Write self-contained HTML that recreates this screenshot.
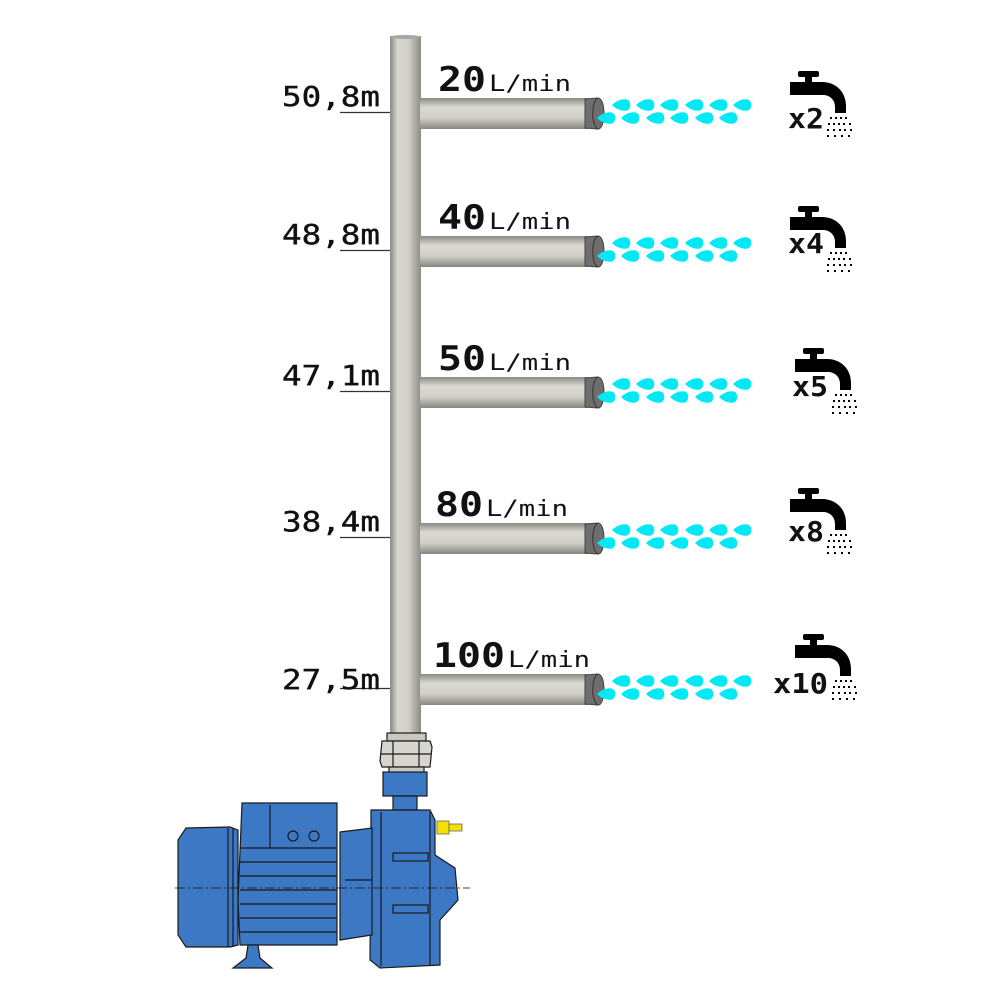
<!DOCTYPE html>
<html><head><meta charset="utf-8"><style>
html,body{margin:0;padding:0;background:#fff;}
svg{display:block}
</style></head><body>
<svg width="1000" height="1000" viewBox="0 0 1000 1000" xmlns="http://www.w3.org/2000/svg">
<defs>
<linearGradient id="gv" x1="0" x2="1" y1="0" y2="0">
<stop offset="0" stop-color="#8a8a84"/><stop offset="0.25" stop-color="#d8d8d0"/><stop offset="0.6" stop-color="#cfcfc6"/><stop offset="1" stop-color="#8c8c86"/>
</linearGradient>
<linearGradient id="gh" x1="0" x2="0" y1="0" y2="1">
<stop offset="0" stop-color="#8a8a84"/><stop offset="0.3" stop-color="#dadad2"/><stop offset="0.65" stop-color="#cfcfc6"/><stop offset="1" stop-color="#86867f"/>
</linearGradient>
<path id="drop" d="M-9,0 C-4,-5 3,-7 7,-5 C10,-3 10,3 7,5 C3,7 -4,5 -9,0 Z" fill="#00e9f5"/>
<g id="row">
<rect x="420" y="0" width="168" height="31" fill="url(#gh)"/>
<path d="M585,1 L598,0 C606,0 606,31 598,31 L585,30 Z" fill="#6e6e6e" stroke="#444" stroke-width="1"/>
<path d="M598,0 C591,3 591,28 598,31" fill="none" stroke="#333" stroke-width="1"/>
<use href="#drop" x="621" y="7"/><use href="#drop" x="645" y="7"/><use href="#drop" x="669" y="7"/><use href="#drop" x="694" y="7"/><use href="#drop" x="718" y="7"/><use href="#drop" x="742" y="7"/>
<use href="#drop" x="606" y="20"/><use href="#drop" x="630" y="20"/><use href="#drop" x="655" y="20"/><use href="#drop" x="679" y="20"/><use href="#drop" x="704" y="20"/><use href="#drop" x="728" y="20"/>
<line x1="340" y1="14.5" x2="390" y2="14.5" stroke="#333" stroke-width="1.3"/>
</g>
<g id="tap">
<rect x="8" y="1" width="21" height="6" rx="2" fill="#000"/>
<rect x="15" y="6" width="7" height="7" fill="#000"/>
<path d="M0,12 L32,12 C46,12 56,22 56,36 L56,43 L45,43 L45,37 C45,30 40,25 33,25 L0,25 Z" fill="#000"/>
<g fill="#000">
<rect x="40" y="47" width="2" height="2"/><rect x="45" y="47" width="2" height="2"/><rect x="50" y="47" width="2" height="2"/><rect x="55" y="47" width="2" height="2"/>
<rect x="38" y="53" width="2" height="2"/><rect x="43" y="53" width="2" height="2"/><rect x="48" y="53" width="2" height="2"/><rect x="53" y="53" width="2" height="2"/><rect x="59" y="53" width="2" height="2"/>
<rect x="37" y="59" width="2" height="2"/><rect x="43" y="59" width="2" height="2"/><rect x="49" y="59" width="2" height="2"/><rect x="54" y="59" width="2" height="2"/><rect x="60" y="59" width="2" height="2"/>
<rect x="37" y="65" width="2" height="2"/><rect x="44" y="65" width="2" height="2"/><rect x="51" y="65" width="2" height="2"/><rect x="58" y="65" width="2" height="2"/>
</g>
</g>
</defs>

<rect x="390" y="36" width="31" height="705" fill="url(#gv)"/>
<ellipse cx="405.5" cy="37" rx="15.5" ry="2" fill="#a8a8a2"/>

<g transform="translate(0,98)"><use href="#row"/></g>
<g transform="translate(0,236)"><use href="#row"/></g>
<g transform="translate(0,377)"><use href="#row"/></g>
<g transform="translate(0,523)"><use href="#row"/></g>
<g transform="translate(0,674)"><use href="#row"/></g>

<g font-family="DejaVu Sans Mono, Liberation Mono, monospace" fill="#111">
<g font-size="28" stroke="#111" stroke-width="0.4">
<text x="282" y="106" textLength="98" lengthAdjust="spacingAndGlyphs">50,8m</text>
<text x="282" y="244" textLength="98" lengthAdjust="spacingAndGlyphs">48,8m</text>
<text x="282" y="385" textLength="98" lengthAdjust="spacingAndGlyphs">47,1m</text>
<text x="282" y="531" textLength="98" lengthAdjust="spacingAndGlyphs">38,4m</text>
<text x="282" y="689" textLength="98" lengthAdjust="spacingAndGlyphs">27,5m</text>
</g>
<text x="438" y="91" font-size="34" font-weight="bold" textLength="48" lengthAdjust="spacingAndGlyphs">20</text>
<text x="489" y="91" font-size="22" textLength="82" lengthAdjust="spacingAndGlyphs">L/min</text>
<text x="438" y="229" font-size="34" font-weight="bold" textLength="48" lengthAdjust="spacingAndGlyphs">40</text>
<text x="489" y="229" font-size="22" textLength="82" lengthAdjust="spacingAndGlyphs">L/min</text>
<text x="438" y="370" font-size="34" font-weight="bold" textLength="48" lengthAdjust="spacingAndGlyphs">50</text>
<text x="489" y="370" font-size="22" textLength="82" lengthAdjust="spacingAndGlyphs">L/min</text>
<text x="435" y="516" font-size="34" font-weight="bold" textLength="48" lengthAdjust="spacingAndGlyphs">80</text>
<text x="486" y="516" font-size="22" textLength="82" lengthAdjust="spacingAndGlyphs">L/min</text>
<text x="433" y="667" font-size="34" font-weight="bold" textLength="72" lengthAdjust="spacingAndGlyphs">100</text>
<text x="508" y="667" font-size="22" textLength="82" lengthAdjust="spacingAndGlyphs">L/min</text>

<g font-size="28" font-weight="bold">
<text x="788" y="128" textLength="36" lengthAdjust="spacingAndGlyphs">x2</text>
<text x="788" y="253" textLength="36" lengthAdjust="spacingAndGlyphs">x4</text>
<text x="792" y="396" textLength="36" lengthAdjust="spacingAndGlyphs">x5</text>
<text x="788" y="541" textLength="36" lengthAdjust="spacingAndGlyphs">x8</text>
<text x="773" y="693" textLength="55" lengthAdjust="spacingAndGlyphs">x10</text>
</g>
</g>
<use href="#tap" transform="translate(790,70)"/>
<use href="#tap" transform="translate(790,205)"/>
<use href="#tap" transform="translate(795,347)"/>
<use href="#tap" transform="translate(790,487)"/>
<use href="#tap" transform="translate(795,633)"/>

<g stroke="#1a1a1a" stroke-width="1.2">
<rect x="387" y="733" width="39" height="8" fill="#c8c8c0"/>
<path d="M382,741 L430,741 L432,747 L430,767 L382,767 L380,761 Z" fill="#d6d6ce"/>
<line x1="393" y1="741" x2="393" y2="767"/><line x1="419" y1="741" x2="419" y2="767"/>
<line x1="381" y1="754" x2="431" y2="754"/>
<rect x="389" y="767" width="35" height="6" fill="#c8c8c0"/>
<rect x="383" y="772" width="44" height="24" fill="#3d78c5"/>
<path d="M393,796 L417,796 L417,810 L393,810 Z" fill="#3d78c5"/>
<path d="M371,810 L430,810 L435,820 L435,855 L455,868 L458,900 L440,920 L440,965 L380,968 L370,960 Z" fill="#3d78c5"/>
<line x1="381" y1="812" x2="381" y2="966"/>
<line x1="430" y1="812" x2="430" y2="966"/>
<rect x="393" y="853" width="35" height="8" fill="#3d78c5"/>
<rect x="393" y="905" width="35" height="8" fill="#3d78c5"/>
<path d="M340,832 L372,828 L372,935 L340,940 Z" fill="#3d78c5"/>
<line x1="345" y1="880" x2="372" y2="880"/>
<path d="M242,803 L337,803 L337,945 L240,945 L238,900 Z" fill="#3d78c5"/>
<line x1="240" y1="848" x2="337" y2="848"/>
<line x1="240" y1="862" x2="337" y2="862"/>
<line x1="240" y1="876" x2="337" y2="876"/>
<line x1="240" y1="890" x2="337" y2="890"/>
<line x1="240" y1="904" x2="337" y2="904"/>
<line x1="240" y1="918" x2="337" y2="918"/>
<line x1="240" y1="932" x2="337" y2="932"/>
<line x1="270" y1="805" x2="270" y2="848"/>
<circle cx="293" cy="836" r="5" fill="none"/><circle cx="314" cy="836" r="5" fill="none"/>
<path d="M186,828 L230,827 L238,830 L238,945 L230,947 L186,947 L178,935 L178,840 Z" fill="#3d78c5"/>
<line x1="228" y1="828" x2="228" y2="947"/>
<line x1="233" y1="828" x2="233" y2="947"/>
<path d="M248,945 L258,945 L260,958 L272,968 L233,968 L246,958 Z" fill="#3d78c5"/>
</g>
<line x1="175" y1="888" x2="470" y2="888" stroke="#111" stroke-width="0.8" stroke-dasharray="10,3,2,3"/>
<rect x="437" y="821" width="12" height="13" fill="#f2e000" stroke="#666" stroke-width="0.8"/>
<rect x="449" y="824" width="13" height="7" fill="#f2e000" stroke="#666" stroke-width="0.8"/>
</svg>
</body></html>
